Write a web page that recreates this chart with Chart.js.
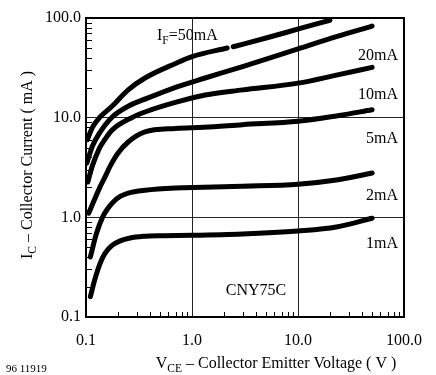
<!DOCTYPE html>
<html>
<head>
<meta charset="utf-8">
<script src="https://cdn.jsdelivr.net/npm/chart.js@4/dist/chart.umd.min.js"></script>
<style>
  html, body { margin: 0; padding: 0; background: #fff; }
  #wrap { width: 436px; height: 375px; }
</style>
</head>
<body>
<div id="wrap"><canvas id="chart" width="436" height="375"></canvas></div>
<script>
// I_C vs V_CE curves
const vce1mA = [0.11, 0.12, 0.135, 0.15, 0.175, 0.21, 0.26, 0.35, 0.5, 1.0, 3.0, 10, 23, 50];
const ic1mA = [0.16, 0.23, 0.34, 0.43, 0.52, 0.58, 0.62, 0.645, 0.655, 0.66, 0.68, 0.73, 0.8, 0.98];

const vce2mA = [0.11, 0.125, 0.143, 0.16, 0.18, 0.21, 0.25, 0.36, 0.7, 1.3, 3, 10, 23, 50];
const ic2mA = [0.4, 0.68, 1.0, 1.22, 1.42, 1.62, 1.75, 1.87, 1.97, 2.0, 2.05, 2.15, 2.37, 2.78];

const vce5mA = [0.106, 0.12, 0.135, 0.15, 0.17, 0.2, 0.25, 0.36, 0.7, 1.3, 3, 10, 23, 50];
const ic5mA = [1.1, 1.5, 2.0, 2.5, 3.3, 4.4, 5.7, 7.2, 7.8, 8.0, 8.5, 9.2, 10.4, 12];

const vce10mA = [0.104, 0.115, 0.134, 0.15, 0.176, 0.27, 0.36, 0.71, 1.33, 3, 10, 23, 50];
const ic10mA = [2.26, 3.3, 4.95, 6.0, 7.5, 10, 11.4, 14.3, 16.9, 19, 22.2, 26.7, 32];

const vce20mA = [0.102, 0.115, 0.134, 0.176, 0.25, 0.38, 0.71, 1.33, 3, 10, 23, 50];
const ic20mA = [3.5, 5.2, 7.0, 10.1, 13, 15.7, 20.3, 25, 32.5, 49, 65, 83];

// null marks the small break in the printed 50mA line
const vce50mA = [0.103, 0.115, 0.134, 0.176, 0.25, 0.36, 0.7, 1.0, 2.15, 2.3, 2.45, 5, 10.7, 20];
const ic50mA = [6, 8, 10, 13, 19, 25, 35, 41, 50, null, 51.5, 63, 79, 95];

const xTicks = [0.1, 1, 10, 100];
const xTickLabels = ['0.1', '1.0', '10.0', '100.0'];
const yTicks = [0.1, 1, 10, 100];
const yTickLabels = ['0.1', '1.0', '10.0', '100.0'];

const curveLabels = ['20mA', '10mA', '5mA', '2mA', '1mA'];

function pts(xs, ys) {
  return xs.map((x, i) => ({ x: x, y: ys[i] }));
}

const SERIF = '"Liberation Serif", "DejaVu Serif", serif';

function drawRich(ctx, parts, x, y, align, size) {
  // parts: [text, isSub]
  let w = 0;
  parts.forEach(p => {
    ctx.font = (p[1] ? size * 0.72 : size) + 'px ' + SERIF;
    w += ctx.measureText(p[0]).width;
  });
  let cx = align === 'center' ? x - w / 2 : (align === 'right' ? x - w : x);
  ctx.textAlign = 'left';
  ctx.textBaseline = 'alphabetic';
  parts.forEach(p => {
    ctx.font = (p[1] ? size * 0.72 : size) + 'px ' + SERIF;
    ctx.fillText(p[0], cx, y + (p[1] ? size * 0.28 : 0));
    cx += ctx.measureText(p[0]).width;
  });
}

const decor = {
  id: 'decor',
  afterDraw(chart) {
    const ctx = chart.ctx;
    const a = chart.chartArea;
    const xs = chart.scales.x, ys = chart.scales.y;
    ctx.save();
    ctx.strokeStyle = '#000';
    ctx.fillStyle = '#000';

    // minor ticks, pointing inward
    ctx.lineWidth = 1;
    ctx.beginPath();
    [0.1, 1, 10].forEach(d => {
      for (let k = 2; k <= 9; k++) {
        const py = Math.round(ys.getPixelForValue(d * k)) + 0.5;
        ctx.moveTo(a.left, py); ctx.lineTo(a.left + 6, py);
        const px = Math.round(xs.getPixelForValue(d * k)) + 0.5;
        ctx.moveTo(px, a.bottom); ctx.lineTo(px, a.bottom - 5);
      }
    });
    ctx.stroke();

    // frame
    ctx.lineWidth = 2;
    ctx.strokeRect(a.left, a.top, a.right - a.left, a.bottom - a.top);

    // curve labels, right-aligned near the frame
    const labelY = [60, 99, 143, 200, 248];
    curveLabels.forEach((t, i) => {
      drawRich(ctx, [[t, false]], 398, labelY[i], 'right', 16);
    });
    drawRich(ctx, [['I', false], ['F', true], ['=50mA', false]], 157, 40, 'left', 16);
    drawRich(ctx, [['CNY75C', false]], 256, 295, 'center', 16);

    // axis titles
    drawRich(ctx, [['V', false], ['CE', true], [' \u2013 Collector Emitter Voltage ( V )', false]], 276, 368, 'center', 16);
    ctx.save();
    ctx.translate(32, 165);
    ctx.rotate(-Math.PI / 2);
    drawRich(ctx, [['I', false], ['C', true], [' \u2013 Collector Current ( mA )', false]], 0, 0, 'center', 16);
    ctx.restore();

    drawRich(ctx, [['96 11919', false]], 6, 372, 'left', 11);
    ctx.restore();
  }
};

const lineStyle = {
  showLine: true,
  spanGaps: false,
  borderColor: '#000',
  borderWidth: 5,
  borderCapStyle: 'round',
  pointRadius: 0,
  cubicInterpolationMode: 'monotone',
  fill: false
};

new Chart(document.getElementById('chart'), {
  type: 'scatter',
  data: {
    datasets: [
      Object.assign({ label: '1mA', data: pts(vce1mA, ic1mA) }, lineStyle),
      Object.assign({ label: '2mA', data: pts(vce2mA, ic2mA) }, lineStyle),
      Object.assign({ label: '5mA', data: pts(vce5mA, ic5mA) }, lineStyle),
      Object.assign({ label: '10mA', data: pts(vce10mA, ic10mA) }, lineStyle),
      Object.assign({ label: '20mA', data: pts(vce20mA, ic20mA) }, lineStyle),
      Object.assign({ label: '50mA', data: pts(vce50mA, ic50mA) }, lineStyle)
    ]
  },
  options: {
    responsive: false,
    animation: false,
    layout: { padding: { left: 0, top: 18, right: 19, bottom: 0 } },
    plugins: { legend: { display: false }, tooltip: { enabled: false } },
    scales: {
      x: {
        type: 'logarithmic',
        min: 0.1, max: 100,
        afterBuildTicks: s => { s.ticks = xTicks.map(v => ({ value: v })); },
        afterFit: s => { s.height = 58; },
        border: { display: false },
        grid: { color: '#222', lineWidth: 1, drawTicks: false },
        ticks: {
          color: '#000',
          padding: 14,
          maxRotation: 0,
          autoSkip: false,
          font: { family: SERIF, size: 16 },
          callback: (v, i) => xTickLabels[i]
        }
      },
      y: {
        type: 'logarithmic',
        min: 0.1, max: 100,
        afterBuildTicks: s => { s.ticks = yTicks.map(v => ({ value: v })); },
        afterFit: s => { s.width = 86; },
        border: { display: false },
        grid: { color: '#222', lineWidth: 1, drawTicks: false },
        ticks: {
          color: '#000',
          padding: 5,
          autoSkip: false,
          font: { family: SERIF, size: 16 },
          callback: (v, i) => yTickLabels[i]
        }
      }
    }
  },
  plugins: [decor]
});
</script>
</body>
</html>
